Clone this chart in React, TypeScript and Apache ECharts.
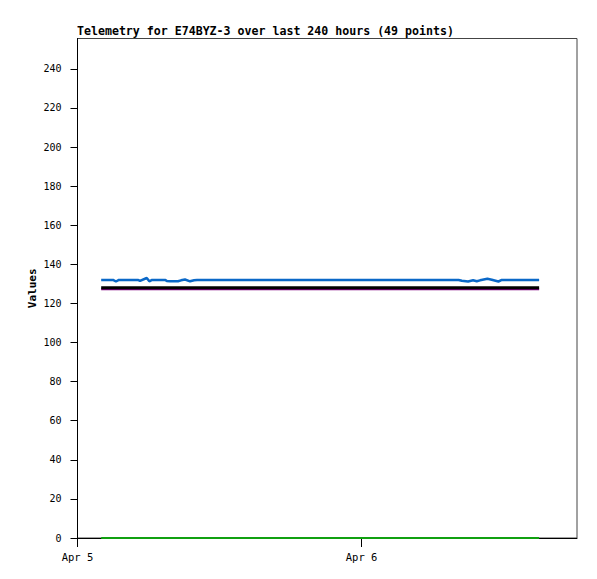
import React, { useEffect, useRef } from "react";
import * as echarts from "echarts";

const title = "Telemetry for E74BYZ-3 over last 240 hours (49 points)";
const xTickHours = [0, 24];
const xTickLabels = ["Apr 5", "Apr 6"];
const yTicks = [0, 20, 40, 60, 80, 100, 120, 140, 160, 180, 200, 220, 240];

// hours since Apr 5 00:00
const blueHours = [2.0, 3.0, 3.25, 3.5, 5.1, 5.28, 5.85, 6.07, 6.3, 7.39, 7.54, 7.82, 8.49, 8.75, 9.08, 9.51, 9.85, 10.1, 32.2, 32.47, 33.0, 33.42, 33.73, 34.01, 34.63, 35.0, 35.56, 35.85, 39.0];
const blueValues = [132, 132, 131.2, 132, 132, 131.5, 133, 131.3, 132, 132, 131.5, 131.3, 131.3, 131.8, 132.2, 131.3, 131.8, 132, 132, 131.6, 131.2, 131.8, 131.3, 131.8, 132.6, 132.1, 131.2, 132, 132];
const blackHours = [2.0, 39.0];
const blackValues = [128, 128];
const purpleHours = [2.0, 39.0];
const purpleValues = [127.3, 127.3];
const greenHours = [2.0, 39.0];
const greenValues = [0, 0];

const pairs = (xs: number[], ys: number[]) => xs.map((x, i) => [x, ys[i]]);

export default function App() {
  const ref = useRef<HTMLDivElement>(null);
  useEffect(() => {
    if (!ref.current) return;
    const chart = echarts.init(ref.current, null, { renderer: "svg" });
    const mono = "'DejaVu Sans Mono', monospace";
    chart.setOption({
      animation: false,
      backgroundColor: "#fff",
      title: {
        text: title,
        left: 72,
        top: 20,
        textStyle: { fontFamily: mono, fontSize: 11.6, fontWeight: "bold", color: "#000" },
      },
      grid: {
        left: 77.5,
        right: 20,
        top: 38.5,
        bottom: 41,
        show: true,
        borderColor: "#444",
        borderWidth: 1,
        backgroundColor: "transparent",
      },
      xAxis: {
        type: "value",
        min: 0,
        max: 42.2,
        axisLine: { show: true, onZero: false, lineStyle: { color: "#000", width: 1 } },
        axisTick: { show: true, length: 9, customValues: xTickHours, lineStyle: { color: "#000" } },
        axisLabel: {
          customValues: xTickHours,
          formatter: (v: number) => xTickLabels[xTickHours.indexOf(v)] ?? "",
          fontFamily: mono,
          fontSize: 10.5,
          color: "#000",
          margin: 13,
        },
        splitLine: { show: false },
      },
      yAxis: {
        type: "value",
        min: 0,
        max: 255.5,
        name: "Values",
        nameLocation: "middle",
        nameGap: 40,
        nameMoveOverlap: false,
        nameTextStyle: { fontFamily: mono, fontSize: 11, fontWeight: "bold", color: "#000" },
        axisLine: { show: true, lineStyle: { color: "#000", width: 1 } },
        axisTick: { show: true, length: 7, customValues: yTicks, lineStyle: { color: "#000" } },
        axisLabel: {
          customValues: yTicks,
          fontFamily: mono,
          fontSize: 10,
          color: "#000",
          margin: 16,
        },
        splitLine: { show: false },
      },
      series: [
        {
          type: "line",
          data: pairs(greenHours, greenValues),
          showSymbol: false,
          lineStyle: { color: "#10a010", width: 2 },
          z: 2,
        },
        {
          type: "line",
          data: pairs(purpleHours, purpleValues),
          showSymbol: false,
          lineStyle: { color: "#800080", width: 2 },
          z: 2,
        },
        {
          type: "line",
          data: pairs(blackHours, blackValues),
          showSymbol: false,
          lineStyle: { color: "#000", width: 3 },
          z: 3,
        },
        {
          type: "line",
          data: pairs(blueHours, blueValues),
          showSymbol: false,
          lineStyle: { color: "#0a68c8", width: 2.5 },
          z: 4,
        },
      ],
    });
    return () => chart.dispose();
  }, []);
  return <div ref={ref} style={{ width: 597, height: 579, margin: -8 }} />;
}
